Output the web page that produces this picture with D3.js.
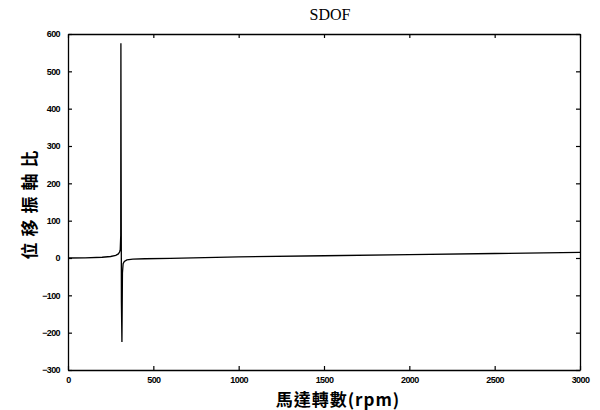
<!DOCTYPE html>
<html>
<head>
<meta charset="utf-8">
<script src="https://cdn.jsdelivr.net/npm/d3@7"></script>
<style>
  body { margin: 0; background: #fff; }
  .tick text { font-family: "Liberation Sans", Arial, sans-serif; font-size: 9px; font-weight: bold; letter-spacing: -0.6px; }
</style>
</head>
<body>
<div class="chart"></div>
<script>
// data
const rpm   = [0, 100, 200, 250, 280, 295, 302, 306, 309, 310, 311, 313, 316, 319, 323, 330, 345, 380, 450, 600, 1000, 1500, 2000, 2500, 3000];
const ratio = [0, 0.5, 2, 4, 7, 11, 16, 22, 60, 575, 300, -120, -225, -40, -15, -9, -5, -3, -2, -1, 3, 6, 9, 12, 15];
const xTicks = [0, 500, 1000, 1500, 2000, 2500, 3000];
const yTicks = [-300, -200, -100, 0, 100, 200, 300, 400, 500, 600];

const margin = { top: 34, right: 20, bottom: 40, left: 68 };
const width = 512;
const height = 336;

const svg = d3.select('.chart')
    .append('svg')
    .attr('width', 600)
    .attr('height', 410)
    .append('g')
    .attr('transform', `translate(${margin.left},${margin.top})`);

const x = d3.scaleLinear().domain([0, 3000]).range([0, width]);
const y = d3.scaleLinear().domain([-300, 600]).range([height, 0]);
const fmt = d3.format('d');

// axes, ticks pointing inward like matlab
svg.append('g')
    .attr('transform', `translate(0,${height})`)
    .call(d3.axisBottom(x).tickValues(xTicks).tickSizeInner(-4).tickSizeOuter(0).tickPadding(7).tickFormat(fmt));
svg.append('g')
    .call(d3.axisLeft(y).tickValues(yTicks).tickSizeInner(-4).tickSizeOuter(0).tickPadding(8).tickFormat(fmt));
svg.append('g')
    .call(d3.axisTop(x).tickValues(xTicks).tickSizeInner(-4).tickSizeOuter(0).tickFormat(''));
svg.append('g')
    .attr('transform', `translate(${width},0)`)
    .call(d3.axisRight(y).tickValues(yTicks).tickSizeInner(-4).tickSizeOuter(0).tickFormat(''));

svg.selectAll('.domain').attr('stroke', '#000').attr('stroke-width', 1.3);
svg.selectAll('.tick line').attr('stroke', '#000').attr('stroke-width', 1.2);

const line = d3.line()
    .x((d, i) => x(rpm[i]))
    .y(d => y(d));

svg.append('path')
    .datum(ratio)
    .attr('fill', 'none')
    .attr('stroke', '#000')
    .attr('stroke-width', 1.3)
    .attr('d', line);

// title
svg.append('text')
    .attr('x', width / 2 + 6)
    .attr('y', -14)
    .attr('text-anchor', 'middle')
    .style('font-family', '"Liberation Serif", serif')
    .style('font-size', '16px')
    .text('SDOF');

// axis labels
svg.append('text')
    .attr('x', width / 2 + 14)
    .attr('y', height + 36)
    .attr('text-anchor', 'middle')
    .style('font-family', '"Noto Sans CJK TC", sans-serif')
    .style('font-size', '17px')
    .style('font-weight', 'bold')
    .style('letter-spacing', '1px')
    .text('馬達轉數(rpm)');

svg.append('text')
    .attr('transform', `translate(-32,${y(150)}) rotate(-90)`)
    .attr('text-anchor', 'middle')
    .style('font-family', '"Noto Sans CJK TC", sans-serif')
    .style('font-size', '17px')
    .style('font-weight', 'bold')
    .style('letter-spacing', '6px')
    .text('位移振軸比');
</script>
</body>
</html>
